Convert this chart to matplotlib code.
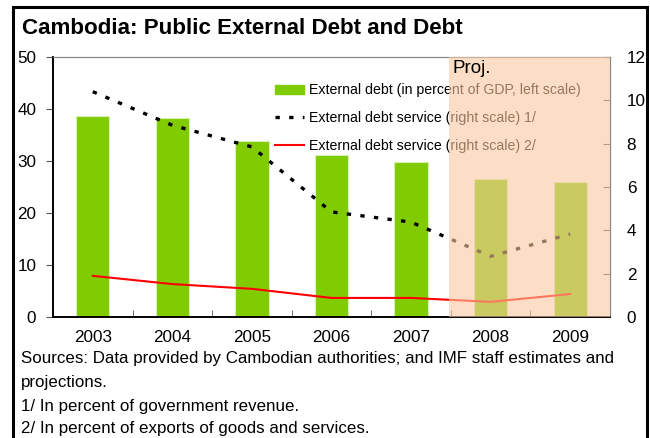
import numpy as np
import matplotlib.pyplot as plt
from matplotlib.patches import Rectangle
from matplotlib.lines import Line2D

plt.rcParams['font.family'] = ['Liberation Sans', 'DejaVu Sans']

years = ['2003', '2004', '2005', '2006', '2007', '2008', '2009']
ext_debt = [38.7, 38.3, 33.8, 31.2, 29.8, 26.5, 26.0]
debt_service_rev = [10.4, 8.85, 7.85, 4.85, 4.38, 2.8, 3.83]
debt_service_exp = [1.9, 1.52, 1.3, 0.88, 0.88, 0.7, 1.06]

green = '#80cc00'
x = np.arange(len(years))

fig = plt.figure(figsize=(6.5, 4.38), dpi=100)
ax = fig.add_axes([53/650, 1-317/438, 557/650, 260/438])
ax2 = ax.twinx()

ax.bar(x, ext_debt, width=0.42, color=green, edgecolor='#d8f0b0', linewidth=0.8, zorder=2)
ax2.plot(x, debt_service_rev, color='black', lw=2.4, dashes=(1.3, 2.8), zorder=3)
ax2.plot(x, debt_service_exp, color='red', lw=1.5, zorder=3)

ax.set_xlim(-0.5, 6.5)
ax.set_ylim(0, 50)
ax2.set_ylim(0, 12)
ax.set_yticks(range(0, 51, 10))
ax2.set_yticks(range(0, 13, 2))
ax.set_xticks(x)
ax.set_xticklabels(years)
ax.set_xticks(x[:-1] + 0.5, minor=True)
ax.tick_params(axis='x', which='major', length=0, pad=9, labelsize=12.3)
ax.tick_params(axis='x', which='minor', length=5, direction='in', color='#555555')
ax.tick_params(axis='y', length=5, direction='out', color='#555555', labelsize=12.3, pad=7)
ax2.tick_params(axis='y', length=5, direction='in', color='#555555', labelsize=12.3, pad=12)

for a in (ax, ax2):
    a.spines['left'].set_color('black')
    a.spines['bottom'].set_color('black')
    a.spines['left'].set_linewidth(1.2)
    a.spines['bottom'].set_linewidth(1.2)
    a.spines['top'].set_color('#888888')
    a.spines['right'].set_color('#888888')
    a.spines['top'].set_linewidth(0.8)
    a.spines['right'].set_linewidth(0.8)

handles = [Rectangle((0, 0), 1, 1, color=green),
           Line2D([], [], color='black', lw=2.4, dashes=(1.3, 2.8)),
           Line2D([], [], color='red', lw=1.5)]
labels = ['External debt (in percent of GDP, left scale)',
          'External debt service (right scale) 1/',
          'External debt service (right scale) 2/']
leg = ax2.legend(handles, labels, loc='upper left', bbox_to_anchor=(0.389, 0.92),
                 frameon=False, fontsize=10.2, handlelength=2.0, handletextpad=0.4,
                 labelspacing=0.98, borderaxespad=0)
leg.set_zorder(4)

ax2.axvspan(4.48, 6.5, color='#fbc9a0', alpha=0.6, lw=0, zorder=10)
ax2.text(4.52, 11.45, 'Proj.', fontsize=13.5, va='center', ha='left', zorder=11)

fig.text(22/650, 1-28/438, 'Cambodia: Public External Debt and Debt',
         fontsize=16.1, fontweight='bold', va='center', ha='left')
notes = ['Sources: Data provided by Cambodian authorities; and IMF staff estimates and',
         'projections.',
         '1/ In percent of government revenue.',
         '2/ In percent of exports of goods and services.']
ys = [359, 383, 407, 428]
for t, yy in zip(notes, ys):
    fig.text(21/650, 1-yy/438, t, fontsize=12.2, va='center', ha='left')

fig.patches.append(Rectangle((13/650, -0.05), 647/650 - 13/650, 1.05 - 7/438,
                             transform=fig.transFigure, fill=False, ec='black', lw=2.2))

fig.savefig('out.png', dpi=100)
